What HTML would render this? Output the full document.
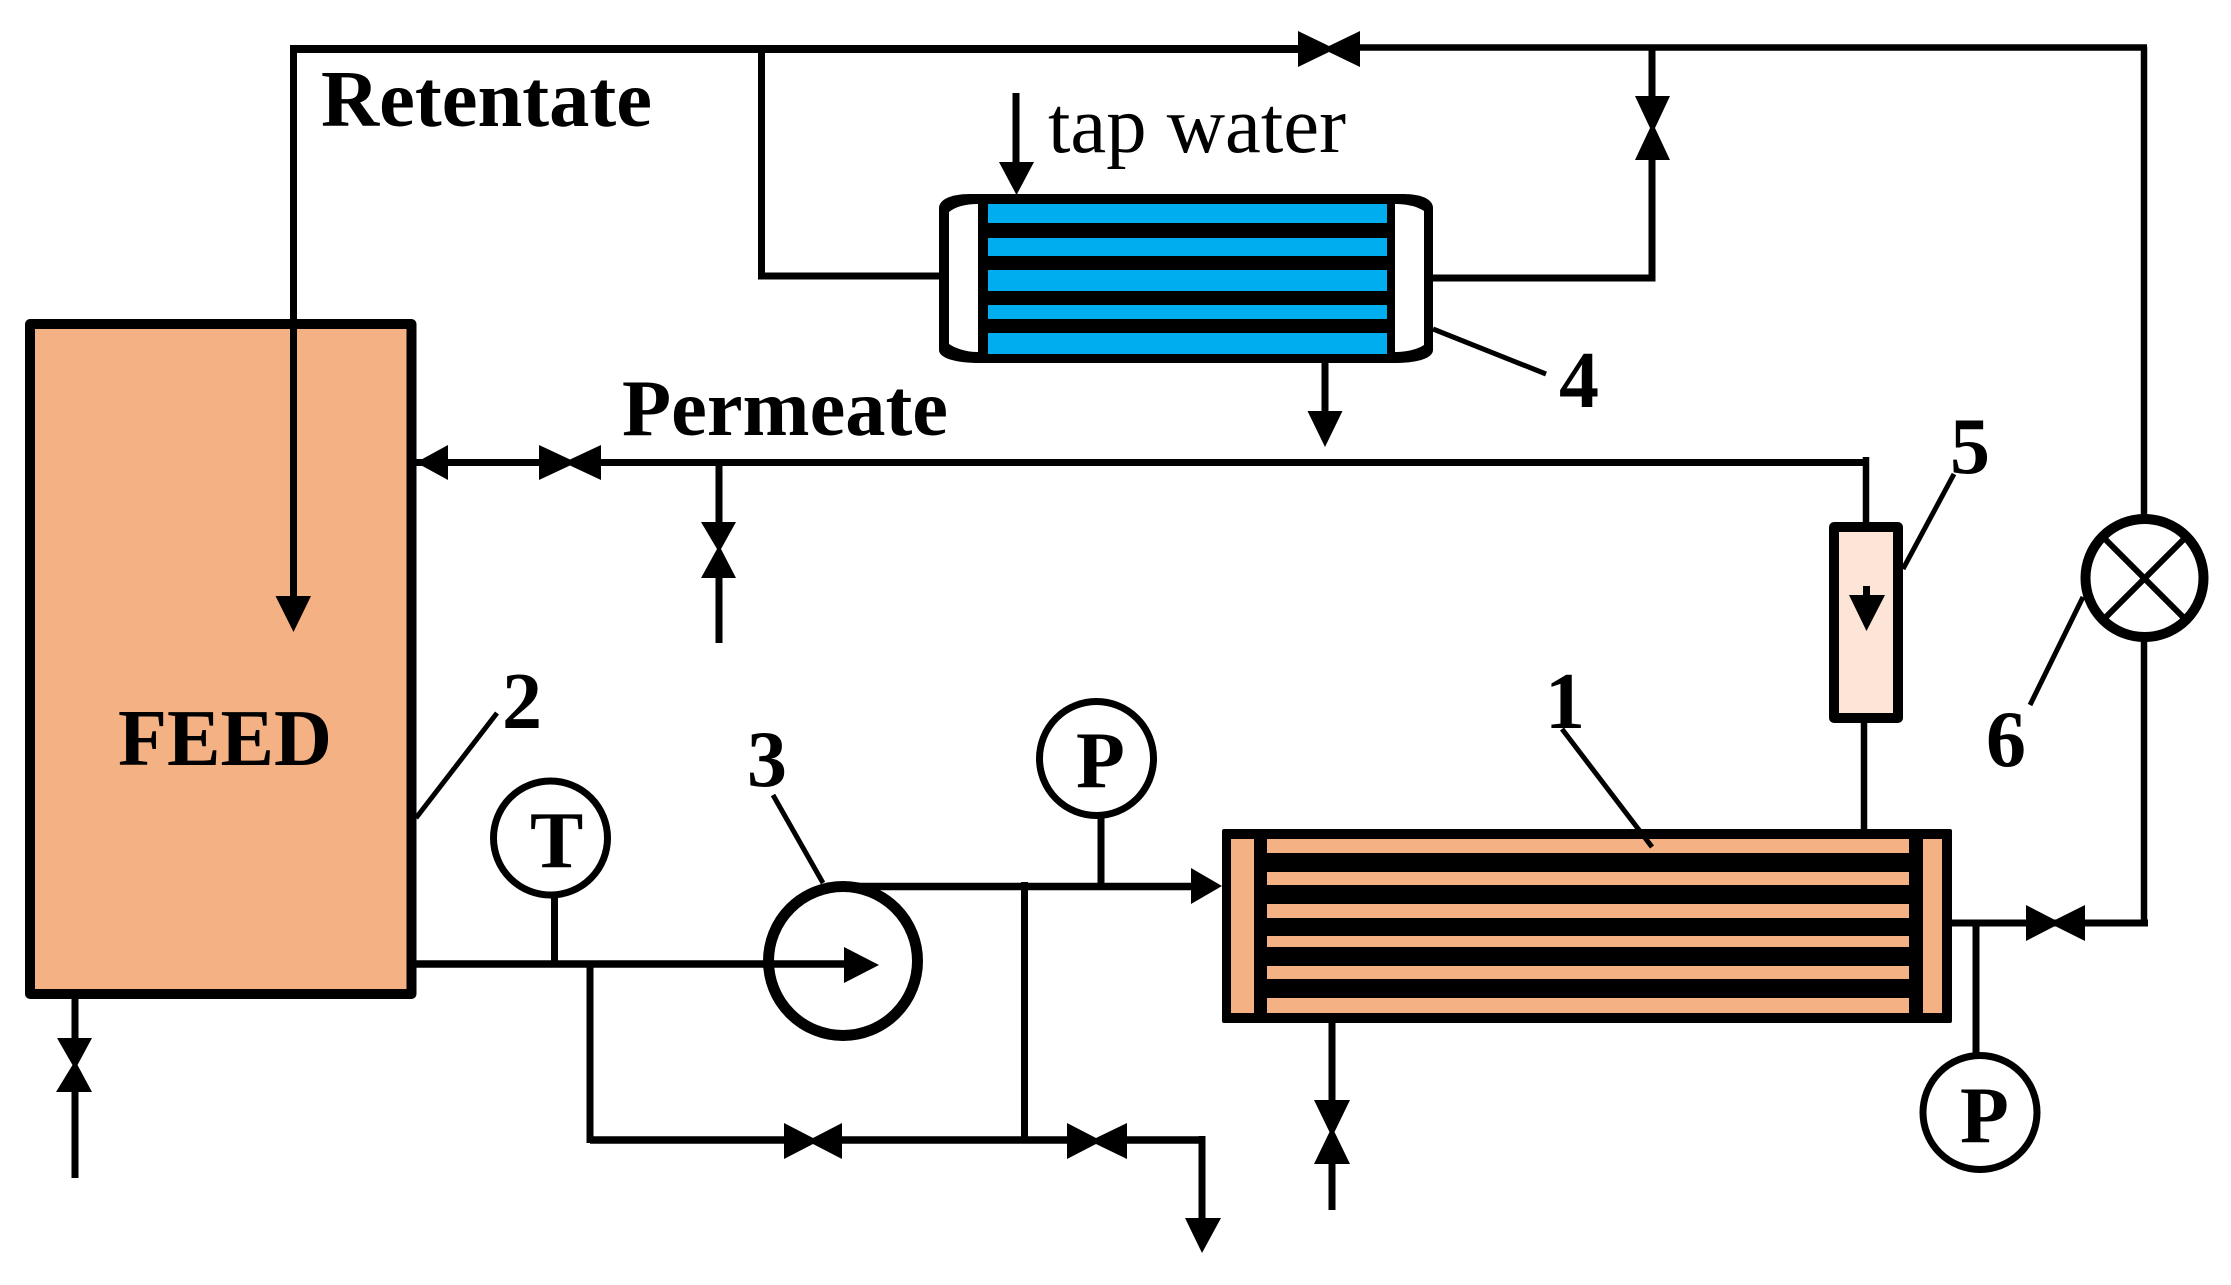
<!DOCTYPE html>
<html lang="en">
<head>
<meta charset="utf-8">
<title>Membrane process diagram</title>
<style>
html,body{margin:0;padding:0;background:#fff;width:2231px;height:1285px;overflow:hidden}
svg{display:block}
text{font-family:"Liberation Serif",serif;font-size:80px;font-weight:bold;fill:#000}
.l{fill:none;stroke:#000;stroke-linecap:butt;stroke-linejoin:miter}
</style>
</head>
<body>
<svg width="2231" height="1285" viewBox="0 0 2231 1285" xmlns="http://www.w3.org/2000/svg">
<rect width="2231" height="1285" fill="#fff"/>

<!-- Feed tank -->
<rect x="30" y="324" width="381.5" height="670" fill="#F4B183" stroke="#000" stroke-width="10" stroke-linejoin="round"/>

<!-- Retentate lines -->
<path class="l" stroke-width="7" d="M293.5,600 V49"/>
<path class="l" stroke-width="8" d="M290,49 H1300"/>
<path class="l" stroke-width="6.5" d="M1358,47.5 H2147"/>
<path class="l" stroke-width="7" d="M761.5,49 V276 H945"/>
<path d="M275.5,596 H311 L293.5,632 Z"/>
<!-- top valve -->
<path d="M1298,31 L1329,46 L1360,31 V67 L1329,52 L1298,67 Z"/>

<!-- Heat exchanger 4 -->
<path d="M985,194 H970 C950,194 939,200 939,208 V350 C939,358 955,363 980,363 H985 Z"/>
<path d="M1390,194 H1403 C1423,194 1433,200 1433,208 V350 C1433,358 1418,363 1395,363 H1390 Z"/>
<path d="M978,204 C965,204 955,207 949,212 V344 C955,348 965,352 978,352 Z" fill="#fff"/>
<path d="M1395,204 C1408,204 1418,207 1424,211 V345 C1418,349 1408,352 1395,352 Z" fill="#fff"/>
<rect x="978" y="194" width="417" height="169" fill="#000"/>
<rect x="988" y="204" width="399" height="19" fill="#00AEEF"/>
<rect x="988" y="238" width="399" height="18" fill="#00AEEF"/>
<rect x="988" y="270" width="399" height="21" fill="#00AEEF"/>
<rect x="988" y="305" width="399" height="14" fill="#00AEEF"/>
<rect x="988" y="333" width="399" height="21" fill="#00AEEF"/>

<!-- tap water arrow -->
<path class="l" stroke-width="7" d="M1016,93 V165"/>
<path d="M999,162 H1034 L1016.5,195 Z"/>

<!-- Exchanger outlet right -->
<path class="l" stroke-width="7" d="M1433,278 H1652 V158"/>
<path class="l" stroke-width="7" d="M1652,47 V100"/>
<path d="M1635,96 H1670 L1655,128 L1670,160 H1635 L1650,128 Z"/>

<!-- Exchanger drain arrow -->
<path class="l" stroke-width="7" d="M1325,363 V415"/>
<path d="M1307.5,411 H1342.5 L1325,447 Z"/>

<!-- Leader 4 -->
<path class="l" stroke-width="5" d="M1433,329 L1546,374"/>

<!-- Permeate line -->
<path class="l" stroke-width="7" d="M412,462.5 H540 M600,462.5 H1869"/>
<path d="M416,462.5 L448,445 V480 Z"/>
<path d="M539,445 L570,459.5 L601,445 V480 L570,465.5 L539,480 Z"/>
<path class="l" stroke-width="6.5" d="M1866,457 V525"/>
<!-- permeate branch valve -->
<path class="l" stroke-width="7" d="M719,462 V525 M719,575 V643"/>
<path d="M701,522 H736 L721,549 L736,578 H701 L717,549 Z"/>

<!-- Rotameter 5 -->
<rect x="1834" y="527" width="64" height="191" fill="#FCE4D6" stroke="#000" stroke-width="10" stroke-linejoin="round"/>
<rect x="1863" y="586" width="7" height="10"/>
<path d="M1849,595 H1885 L1866.5,631 Z"/>
<path class="l" stroke-width="6.5" d="M1864,723 V830"/>

<!-- Leaders -->
<path class="l" stroke-width="5" d="M1954,474 L1903,569"/>
<path class="l" stroke-width="5" d="M2083,597 L2030,705"/>
<path class="l" stroke-width="5" d="M497,713 L416,818"/>
<path class="l" stroke-width="5" d="M773,795 L823,883"/>

<!-- Flow meter 6 -->
<path class="l" stroke-width="6.5" d="M2144,47 V516 M2144,640 V926"/>
<circle cx="2144.5" cy="578" r="59" fill="#fff" stroke="#000" stroke-width="10"/>
<path class="l" stroke-width="6" d="M2103,537 L2186,620 M2186,537 L2103,620"/>

<!-- Membrane 1 -->
<rect x="1222" y="829" width="730" height="194" rx="2" fill="#000"/>
<rect x="1231" y="839" width="23" height="174" fill="#F4B183"/>
<rect x="1923" y="839" width="19" height="174" fill="#F4B183"/>
<rect x="1267" y="839" width="642" height="14" fill="#F4B183"/>
<rect x="1267" y="872" width="642" height="13" fill="#F4B183"/>
<rect x="1267" y="904" width="642" height="14" fill="#F4B183"/>
<rect x="1267" y="936" width="642" height="11" fill="#F4B183"/>
<rect x="1267" y="966" width="642" height="13" fill="#F4B183"/>
<rect x="1267" y="998" width="642" height="15" fill="#F4B183"/>
<path class="l" stroke-width="5" d="M1562,729 L1652,847"/>

<!-- Membrane outlet -->
<path class="l" stroke-width="7" d="M1952,923 H2148"/>
<path d="M2026,905 L2055,920 L2085,905 V941 L2055,926 L2026,941 Z"/>
<path class="l" stroke-width="7" d="M1976,923 V1056"/>
<!-- P lower -->
<circle cx="1980" cy="1112.5" r="57" fill="#fff" stroke="#000" stroke-width="7"/>
<!-- Membrane drain -->
<path class="l" stroke-width="7" d="M1332,1023 V1102 M1332,1162 V1210"/>
<path d="M1314,1100 H1350 L1334.5,1132 L1350,1164 H1314 L1329.5,1132 Z"/>

<!-- Feed outlet -->
<path class="l" stroke-width="7.5" d="M416,964 H850"/>
<!-- T -->
<path class="l" stroke-width="7" d="M554.5,896 V965"/>
<circle cx="550.5" cy="838" r="57" fill="#fff" stroke="#000" stroke-width="7"/>
<!-- Pump 3 -->
<circle cx="843" cy="961" r="74.5" fill="#fff" stroke="#000" stroke-width="11"/>
<path class="l" stroke-width="7.5" d="M763,964 H850"/>
<path d="M844,947 L879,965 L844,983 Z"/>
<path class="l" stroke-width="7.5" d="M843,886.5 H1195"/>
<path d="M1191,868 L1222,886 L1191,904 Z"/>
<!-- P upper -->
<path class="l" stroke-width="7" d="M1101,816 V887"/>
<circle cx="1096.5" cy="758.5" r="57" fill="#fff" stroke="#000" stroke-width="7"/>
<!-- Bypass -->
<path class="l" stroke-width="7" d="M1024.5,882 V1140 M590,964 V1143"/>
<path class="l" stroke-width="7.5" d="M590,1140 H786 M840,1140 H1070 M1125,1140 H1205.5"/>
<path class="l" stroke-width="7" d="M1202,1136 V1222"/>
<path d="M1185,1218 H1221 L1202,1253 Z"/>
<path d="M784,1123 L813,1138 L842,1123 V1159 L813,1144 L784,1159 Z"/>
<path d="M1067,1123 L1096,1138 L1127,1123 V1159 L1096,1144 L1067,1159 Z"/>
<!-- Tank drain -->
<path class="l" stroke-width="7" d="M75,999 V1040 M75,1090 V1178"/>
<path d="M57,1038 H92 L77.5,1065 L92,1092 H56 L72.5,1065 Z"/>

<!-- Labels -->
<text x="321" y="126" textLength="331" lengthAdjust="spacingAndGlyphs">Retentate</text>
<text x="622" y="435" textLength="326" lengthAdjust="spacingAndGlyphs">Permeate</text>
<text x="118" y="765" textLength="214" lengthAdjust="spacingAndGlyphs">FEED</text>
<text x="1048" y="152" textLength="298" lengthAdjust="spacingAndGlyphs" style="font-weight:normal">tap water</text>
<text x="1559" y="407">4</text>
<text x="1545" y="728">1</text>
<text x="502" y="728">2</text>
<text x="747" y="786">3</text>
<text x="1950" y="473">5</text>
<text x="1986" y="766">6</text>
<text x="530" y="867">T</text>
<text x="1076" y="787">P</text>
<text x="1960" y="1142">P</text>
</svg>
</body>
</html>
